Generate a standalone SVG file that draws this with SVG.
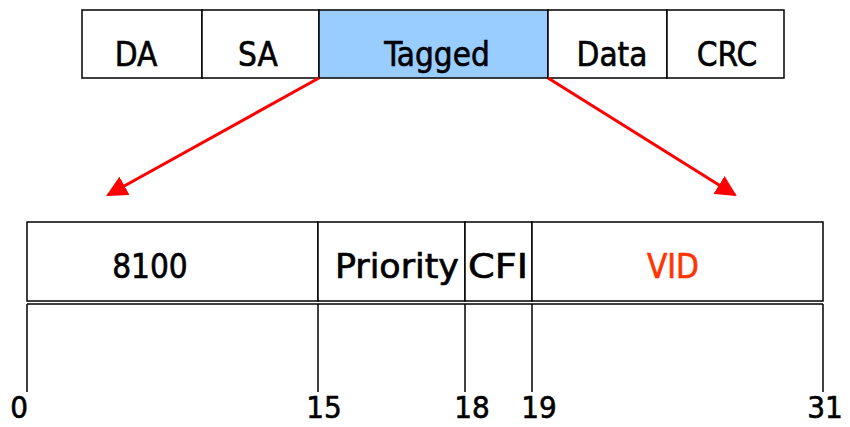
<svg xmlns="http://www.w3.org/2000/svg" width="850" height="427" viewBox="0 0 850 427">
<defs>
<style>
.cell{fill:#fff;stroke:#000;stroke-width:1.5}
.tag{fill:#99CCFF;stroke:#000;stroke-width:1.5}
.ln{stroke:#000;stroke-width:1.5;fill:none}
.t{font-family:"DejaVu Sans Condensed","DejaVu Sans",sans-serif;font-stretch:condensed;font-size:33px;fill:#000;stroke:#000;stroke-width:0.6;text-anchor:middle}
.n{font-size:31px}
.arr{stroke:#FF0000;stroke-width:3;fill:none}
</style>
<marker id="ah2" viewBox="0 0 10 10" refX="9" refY="5" markerWidth="7" markerHeight="7" orient="auto">
<path d="M0,0 L10,5 L0,10 z" fill="#FF0000"/>
</marker>
</defs>
<g id="frame">
<g id="da"><rect class="cell" x="82" y="10" width="120" height="68"/><text class="t" x="136" y="66">DA</text></g>
<g id="sa"><rect class="cell" x="202" y="10" width="117" height="68"/><text class="t" x="258" y="66">SA</text></g>
<g id="tagged"><rect class="tag" x="319" y="10" width="229" height="68"/><text class="t" x="437" y="66">Tagged</text></g>
<g id="data"><rect class="cell" x="548" y="10" width="119" height="68"/><text class="t" x="612" y="66">Data</text></g>
<g id="crc"><rect class="cell" x="667" y="10" width="117" height="68"/><text class="t" x="727" y="66">CRC</text></g>
</g>
<g id="connectors">
<line class="arr" x1="319" y1="78" x2="108" y2="195" marker-end="url(#ah2)"/>
<line class="arr" x1="548" y1="78" x2="735" y2="195" marker-end="url(#ah2)"/>
</g>
<g id="tag-fields">
<g id="f8100"><rect class="cell" x="27" y="222" width="291" height="79"/><text class="t" x="150" y="278">8100</text></g>
<g id="priority"><rect class="cell" x="318" y="222" width="147" height="79"/><text class="t" x="397" y="278" textLength="124" lengthAdjust="spacingAndGlyphs">Priority</text></g>
<g id="cfi"><rect class="cell" x="465" y="222" width="67" height="79"/><text class="t" x="498" y="278" textLength="60" lengthAdjust="spacingAndGlyphs">CFI</text></g>
<g id="vid"><rect class="cell" x="532" y="222" width="291" height="79"/><text class="t" x="673" y="278" style="fill:#FF3300;stroke:#FF3300">VID</text></g>
</g>
<g id="scale">
<line class="ln" x1="27" y1="304" x2="823" y2="304"/>
<line class="ln" x1="27" y1="304" x2="27" y2="392"/>
<line class="ln" x1="318" y1="304" x2="318" y2="392"/>
<line class="ln" x1="465" y1="304" x2="465" y2="392"/>
<line class="ln" x1="532" y1="304" x2="532" y2="392"/>
<line class="ln" x1="823" y1="304" x2="823" y2="392"/>
<text class="t n" x="19" y="418">0</text>
<text class="t n" x="324" y="418">15</text>
<text class="t n" x="472" y="418">18</text>
<text class="t n" x="539" y="418">19</text>
<text class="t n" x="825" y="418">31</text>
</g>
</svg>
